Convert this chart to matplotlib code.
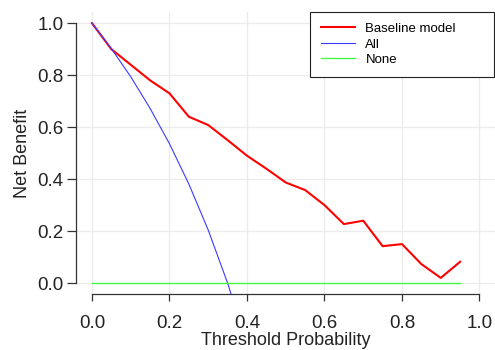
"""Decision curve: net benefit vs threshold probability."""

import matplotlib
matplotlib.use("Agg")
import matplotlib.pyplot as plt

plt.rcParams["font.family"] = ["Liberation Sans", "DejaVu Sans"]

# ── Data ──────────────────────────────────────────────────────────────────────

threshold = [0.0, 0.05, 0.10, 0.15, 0.20, 0.25, 0.30, 0.35, 0.40, 0.45,
             0.50, 0.55, 0.60, 0.65, 0.70, 0.75, 0.80, 0.85, 0.90, 0.95]
baseline_nb = [1.0, 0.90, 0.84, 0.78, 0.73, 0.64, 0.608, 0.55, 0.49, 0.44,
               0.387, 0.358, 0.30, 0.227, 0.24, 0.142, 0.15, 0.073, 0.02, 0.082]
all_threshold = [0.0, 0.05, 0.10, 0.15, 0.20, 0.25, 0.30, 0.35, 0.40]
all_nb = [1.0, 0.902, 0.794, 0.672, 0.536, 0.381, 0.204, 0.0, -0.238]
none_threshold = [0.0, 0.95]
none_nb = [0.0, 0.0]

ticks = [0.0, 0.2, 0.4, 0.6, 0.8, 1.0]
tick_labels = ["0.0", "0.2", "0.4", "0.6", "0.8", "1.0"]

# ── Plot ──────────────────────────────────────────────────────────────────────

fig = plt.figure(figsize=(4.95, 3.5), dpi=100)
ax = fig.add_axes([0.1545, 0.16, 0.8455, 0.805])

ax.plot(threshold, baseline_nb, color="#ff0000", lw=1.5, label="Baseline model")
ax.plot(all_threshold, all_nb, color="#3a3aff", lw=0.8, label="All")
ax.plot(none_threshold, none_nb, color="#33ff33", lw=0.9, label="None")

ax.set_xlim(-0.04, 1.04)
ax.set_ylim(-0.042, 1.042)
ax.set_xticks(ticks)
ax.set_xticklabels(tick_labels)
ax.set_yticks(ticks)
ax.set_yticklabels(tick_labels)
ax.grid(color="#ebebeb", lw=0.9)
ax.set_axisbelow(True)

for side in ("top", "right"):
    ax.spines[side].set_visible(False)
for side in ("left", "bottom"):
    ax.spines[side].set_color("#333333")
    ax.spines[side].set_linewidth(0.9)
ax.spines["left"].set_bounds(0, 1)
ax.spines["bottom"].set_bounds(0, 1)
ax.tick_params(width=0.9, color="#333333", labelsize=13.5, labelcolor="#222222")
ax.tick_params(axis="x", length=5.3, pad=10)
ax.tick_params(axis="y", length=6.5, pad=3)

# x label sits tight against the bottom edge, as in the source figure
ax.set_xlabel("Threshold Probability", fontsize=13, color="#222222", labelpad=0)
ax.set_ylabel("Net Benefit", fontsize=13, color="#222222", labelpad=4)

leg = ax.legend(loc="upper left", bbox_to_anchor=(0.558, 0.774, 0.44, 0.226),
                mode="expand", fontsize=9.5, fancybox=False, framealpha=1,
                edgecolor="#222222", borderpad=0.8, labelspacing=0.25,
                handlelength=2.6, handletextpad=0.8, borderaxespad=0)
leg.get_frame().set_linewidth(0.8)

fig.savefig("out.png", dpi=100)
plt.close(fig)
